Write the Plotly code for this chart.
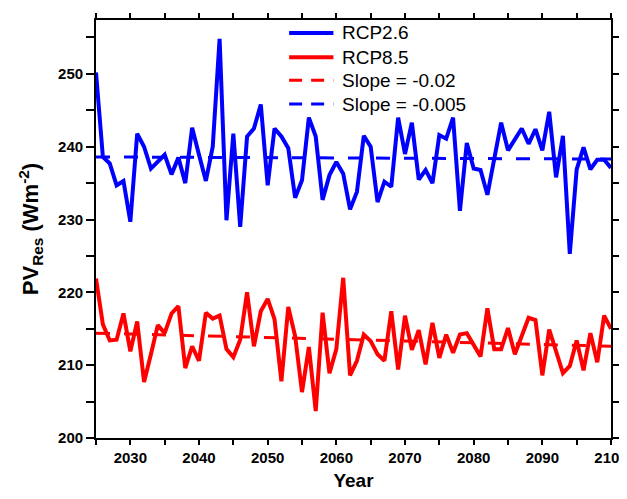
import plotly.graph_objects as go

years = list(range(2025, 2101))

rcp26 = [250.2, 238.6, 237.7, 234.7, 235.3, 229.7, 241.8, 240.0, 237.0, 237.9,
         238.9, 236.2, 238.5, 235.0, 242.6, 238.9, 235.3, 240.0, 254.8, 229.9,
         241.8, 229.0, 241.4, 242.5, 245.8, 234.7, 242.5, 241.4, 239.8, 233.0,
         235.4, 244.0, 241.4, 232.7, 236.1, 237.9, 236.3, 231.4, 233.8, 241.5,
         240.0, 232.4, 235.2, 234.5, 244.0, 239.0, 243.3, 235.5, 236.8, 235.0,
         241.6, 241.1, 244.0, 231.2, 240.5, 237.0, 236.8, 233.4, 238.4, 243.3,
         239.5, 241.0, 242.5, 240.4, 242.4, 239.5, 244.8, 235.8, 241.5, 225.3,
         236.9, 239.9, 236.9, 238.2, 238.2, 237.1]

rcp85 = [221.9, 215.6, 213.4, 213.5, 217.1, 211.9, 216.0, 207.7, 211.5, 215.5,
         214.4, 217.1, 218.1, 209.6, 212.6, 210.6, 217.2, 216.4, 216.8, 212.2,
         211.1, 213.5, 220.0, 212.6, 217.4, 219.1, 216.3, 207.8, 218.0, 214.0,
         206.3, 212.5, 203.7, 217.2, 208.9, 212.2, 222.0, 208.6, 210.6, 214.2,
         213.3, 211.5, 210.6, 217.4, 209.4, 216.8, 212.1, 214.8, 210.1, 215.8,
         211.0, 214.2, 211.7, 214.2, 214.4, 212.8, 211.2, 217.8, 212.2, 212.2,
         215.1, 211.5, 214.2, 216.5, 216.2, 208.6, 214.9, 211.9, 208.9, 209.9,
         213.4, 209.3, 214.4, 210.4, 216.8, 215.0]

trend_years = [2025, 2100]
trend85 = [214.4, 212.6]
trend26 = [238.6, 238.3]

series_names = ["RCP2.6", "RCP8.5", "Slope = -0.02", "Slope = -0.005"]
y_ticks = [200, 210, 220, 230, 240, 250]
x_ticks = [2030, 2040, 2050, 2060, 2070, 2080, 2090, 2100]

BLUE = "#0000FF"
RED = "#FF0000"
FONT = "Arial, Liberation Sans"

series_colors = [BLUE, RED, RED, BLUE]
series_dash = ["solid", "solid", "13px,9px", "13px,9px"]
series_width = [4, 4, 3, 3]

fig = go.Figure()
fig.add_trace(go.Scatter(x=years, y=rcp26, mode="lines", name=series_names[0],
                         line=dict(color=BLUE, width=4)))
fig.add_trace(go.Scatter(x=years, y=rcp85, mode="lines", name=series_names[1],
                         line=dict(color=RED, width=4)))
fig.add_trace(go.Scatter(x=trend_years, y=trend85, mode="lines", name=series_names[2],
                         line=dict(color=RED, width=3, dash="14px,14px")))
fig.add_trace(go.Scatter(x=trend_years, y=trend26, mode="lines", name=series_names[3],
                         line=dict(color=BLUE, width=3, dash="14px,14px")))

# Manual legend (rows placed in paper coordinates of the plot area)
legend_rows = [0.969, 0.911, 0.856, 0.799]
for name, col, dash, w, ry in zip(series_names, series_colors, series_dash, series_width, legend_rows):
    fig.add_shape(type="line", xref="paper", yref="paper",
                  x0=0.375, x1=0.461, y0=ry, y1=ry,
                  line=dict(color=col, width=w, dash=dash))
    fig.add_annotation(xref="paper", yref="paper", x=0.474, y=ry,
                       xanchor="left", yanchor="middle", showarrow=False,
                       text=name, font=dict(family=FONT, size=19, color="black"))

axis_common = dict(
    showline=True, linecolor="black", linewidth=1.7, mirror="ticks",
    ticks="outside", tickcolor="black", tickwidth=1.5,
    showgrid=False, zeroline=False, automargin=False,
    ticklabeloverflow="allow",
    tickfont=dict(family=FONT, size=15, color="black", weight="bold"),
)

fig.update_xaxes(
    range=[2025, 2100], tickvals=x_ticks, ticklen=5,
    minor=dict(dtick=5, tick0=2025, ticklen=5, ticks="outside", tickcolor="black", tickwidth=1.5),
    title=dict(text="<b>Year</b>", font=dict(family=FONT, size=19, color="black"),
               standoff=25),
    **axis_common,
)
fig.update_yaxes(
    range=[200, 257.4], tickvals=y_ticks, ticklen=8,
    minor=dict(dtick=5, tick0=200, ticklen=8, ticks="outside", tickcolor="black", tickwidth=1.5),
    title=dict(text="<b>PV<sub>Res</sub> (Wm<sup>-2</sup>)</b>",
               font=dict(family=FONT, size=22, color="black"), standoff=13),
    **axis_common,
)

fig.update_layout(
    width=611, height=483,
    margin=dict(l=88, r=8, t=12, b=53, autoexpand=False),
    plot_bgcolor="white", paper_bgcolor="white",
    showlegend=False,
)

fig.write_html("out.html")
